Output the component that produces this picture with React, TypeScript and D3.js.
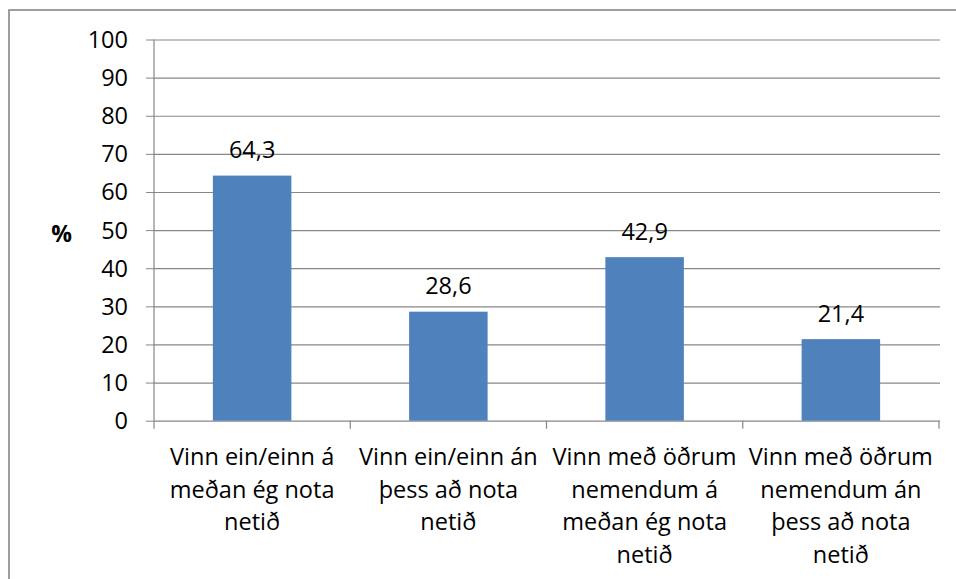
import { useEffect, useRef } from 'react';
import * as d3 from 'd3';

const categories = [
  ['Vinn ein/einn á', 'meðan ég nota', 'netið'],
  ['Vinn ein/einn án', 'þess að nota', 'netið'],
  ['Vinn með öðrum', 'nemendum á', 'meðan ég nota', 'netið'],
  ['Vinn með öðrum', 'nemendum án', 'þess að nota', 'netið'],
];
const values = [64.3, 28.6, 42.9, 21.4];
const yTicks = [0, 10, 20, 30, 40, 50, 60, 70, 80, 90, 100];
const yLabel = '%';

export default function App() {
  const containerRef = useRef<HTMLDivElement>(null);

  useEffect(() => {
    if (!containerRef.current) return;

    d3.select(containerRef.current).selectAll('*').remove();

    const width = 956;
    const height = 579;
    const plot = { left: 154, right: 939, top: 39.5, bottom: 420.7 };
    const font = '"Open Sans", "Noto Sans", sans-serif';
    const fontSize = '23.5px';
    const gray = '#878787';

    const svg = d3
      .select(containerRef.current)
      .append('svg')
      .attr('width', width)
      .attr('height', height)
      .style('display', 'block');

    svg.append('rect').attr('width', width).attr('height', height).attr('fill', '#fff');

    // Outer chart border (runs off the right/bottom)
    svg.append('rect')
      .attr('x', 9)
      .attr('y', 10)
      .attr('width', width + 20)
      .attr('height', height + 20)
      .attr('fill', 'none')
      .attr('stroke', gray)
      .attr('stroke-width', 1.6);

    const keys = categories.map((_, i) => String(i));

    const xScale = d3.scaleBand().domain(keys).range([plot.left, plot.right]).padding(0);
    const yScale = d3.scaleLinear().domain([0, 100]).range([plot.bottom, plot.top]);

    // Grid + left tick marks
    const grid = svg.append('g').attr('transform', `translate(${plot.left},0)`);
    grid.call(
      d3
        .axisLeft(yScale)
        .tickValues(yTicks)
        .tickSize(8)
        .tickFormat(() => '')
    );
    grid.select('.domain').remove();
    grid.selectAll('line').attr('stroke', gray).attr('stroke-width', 1);
    grid.selectAll('.tick')
      .append('line')
      .attr('x1', 0)
      .attr('x2', plot.right - plot.left + 1)
      .attr('stroke', gray)
      .attr('stroke-width', 1.2);

    // Y tick labels
    svg.append('g')
      .selectAll('text')
      .data(yTicks)
      .join('text')
      .attr('x', 128)
      .attr('y', (d) => yScale(d))
      .attr('dy', '0.36em')
      .attr('text-anchor', 'end')
      .attr('font-family', font)
      .attr('font-size', fontSize)
      .attr('fill', '#000')
      .text((d) => d);

    // Y axis line
    svg.append('line')
      .attr('x1', plot.left)
      .attr('x2', plot.left)
      .attr('y1', plot.top)
      .attr('y2', plot.bottom)
      .attr('stroke', gray)
      .attr('stroke-width', 1.2);

    // Category tick marks at band boundaries
    const bounds = [...keys.map((k) => xScale(k)!), plot.right];
    svg.append('g')
      .selectAll('line')
      .data(bounds)
      .join('line')
      .attr('x1', (d) => d)
      .attr('x2', (d) => d)
      .attr('y1', plot.bottom)
      .attr('y2', plot.bottom + 8)
      .attr('stroke', gray)
      .attr('stroke-width', 1.2);

    // Bars
    const barW = xScale.bandwidth() / 2.5;
    svg.append('g')
      .selectAll('rect')
      .data(values)
      .join('rect')
      .attr('x', (_, i) => xScale(String(i))! + (xScale.bandwidth() - barW) / 2)
      .attr('y', (d) => yScale(d))
      .attr('width', barW)
      .attr('height', (d) => yScale(0) - yScale(d))
      .attr('fill', '#4F81BD');

    // Value labels
    svg.append('g')
      .selectAll('text')
      .data(values)
      .join('text')
      .attr('x', (_, i) => xScale(String(i))! + xScale.bandwidth() / 2)
      .attr('y', (d) => yScale(d) - 17.5)
      .attr('text-anchor', 'middle')
      .attr('font-family', font)
      .attr('font-size', fontSize)
      .attr('fill', '#000')
      .text((d) => d.toFixed(1).replace('.', ','));

    // Category labels
    categories.forEach((lines, i) => {
      const cx = xScale(String(i))! + xScale.bandwidth() / 2;
      svg.append('text')
        .attr('text-anchor', 'middle')
        .attr('font-family', font)
        .attr('font-size', fontSize)
        .attr('fill', '#000')
        .selectAll('tspan')
        .data(lines)
        .join('tspan')
        .attr('x', cx)
        .attr('y', (_, j) => 465 + j * 32.6)
        .text((d) => d);
    });

    // Axis title
    svg.append('text')
      .attr('x', 61.7)
      .attr('y', 242)
      .attr('text-anchor', 'middle')
      .attr('font-family', font)
      .attr('font-size', '23px')
      .attr('font-weight', 'bold')
      .attr('fill', '#000')
      .text(yLabel);
  }, []);

  return <div ref={containerRef} style={{ position: 'absolute', left: 0, top: 0 }}></div>;
}
